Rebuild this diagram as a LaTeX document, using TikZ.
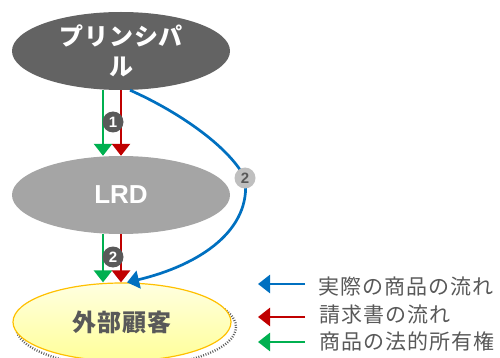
\documentclass[tikz,border=0pt]{standalone}
\usepackage{fontspec}
\setmainfont{Noto Sans CJK JP}
\newfontfamily\arial{Liberation Sans}
\usepackage{tikz}
\usetikzlibrary{shapes.geometric,arrows.meta}

\definecolor{prinGray}{HTML}{636363}
\definecolor{lrdGray}{HTML}{A5A5A5}
\definecolor{textGray}{HTML}{595959}
\definecolor{badgeLight}{HTML}{BFBFBF}
\definecolor{flowBlue}{HTML}{0070C0}
\definecolor{flowRed}{HTML}{C00000}
\definecolor{flowGreen}{HTML}{00B050}
\definecolor{custYellow}{HTML}{FFFF99}
\definecolor{custBorder}{HTML}{FFC000}

\tikzset{
  party/.style={ellipse, minimum width=218pt, minimum height=78pt, inner sep=0pt, align=center},
  flow/.style={line width=2.7pt, -{Triangle[width=18pt,length=12pt]}},
  badge/.style={circle, minimum size=21pt, inner sep=0pt, font=\arial\bfseries\fontsize{15}{15}\selectfont},
  legend/.style={anchor=west, inner sep=0pt, text=textGray, font=\fontsize{21}{21}\selectfont\addfontfeature{LetterSpace=5}}
}

\begin{document}
\begin{tikzpicture}[x=1pt,y=-1pt]
    \useasboundingbox (0,0) rectangle (500,358);

    % Schatten unter dem Kunden
    \draw[black!65, line width=2.4pt, dash pattern=on 0.9pt off 1.6pt] (126,327) ellipse (110 and 40);

    % Parteien
    \node[party, fill=prinGray, text=white, font=\bfseries\fontsize{24}{30}\selectfont\addfontfeature{LetterSpace=4}] (prin) at (121,51) {プリンシパ\\ル};
    \node[party, fill=lrdGray, text=white, font=\arial\bfseries\fontsize{26}{26}\selectfont] (lrd) at (121,195) {LRD};
    \node[party, draw=custBorder, line width=1.2pt, top color=yellow!12, bottom color=custYellow, text=textGray, font=\bfseries\fontsize{24}{24}\selectfont\addfontfeature{LetterSpace=4}] (cust) at (122,322) {外部顧客};

    % Flüsse 1
    \draw[flow, flowGreen] ([xshift=-18pt]prin.south) -- ([xshift=-18pt]lrd.north);
    \draw[flow, flowRed] (prin.south) -- (lrd.north);

    % Flüsse 2
    \draw[flow, flowGreen] ([xshift=-18pt]lrd.south) -- ([xshift=-18pt]lrd.south |- cust.north);
    \draw[flow, flowRed] (lrd.south) -- (lrd.south |- cust.north);

    % direkter Warenfluss
    \coordinate (bend) at (245,178);
    \draw[flow, flowBlue] ([xshift=9pt]prin.south) .. controls (175,110) and (228,145) .. (bend)
        .. controls (252,230) and (200,265) .. ([xshift=5pt]cust.north);

    % Nummern
    \node[badge, fill=textGray, text=white] (one) at (113,122) {1};
    \node[badge, fill=textGray, text=white] (two) at (113,257) {2};
    \node[badge, fill=badgeLight, text=textGray] (twoB) at (bend) {2};

    % Legende
    \node[legend] (lgBlue) at (318,287) {実際の商品の流れ};
    \node[legend] (lgRed) at (319,315) {請求書の流れ};
    \node[legend] (lgGreen) at (319,341) {商品の法的所有権};
    \coordinate (tipBlue) at (258,284);
    \coordinate (tipRed) at (258,317);
    \coordinate (tipGreen) at (258,342);
    \draw[flow, flowBlue] (tipBlue -| 305,0) -- (tipBlue);
    \draw[flow, flowRed] (tipRed -| 305,0) -- (tipRed);
    \draw[flow, flowGreen] (tipGreen -| 305,0) -- (tipGreen);
\end{tikzpicture}
\end{document}
